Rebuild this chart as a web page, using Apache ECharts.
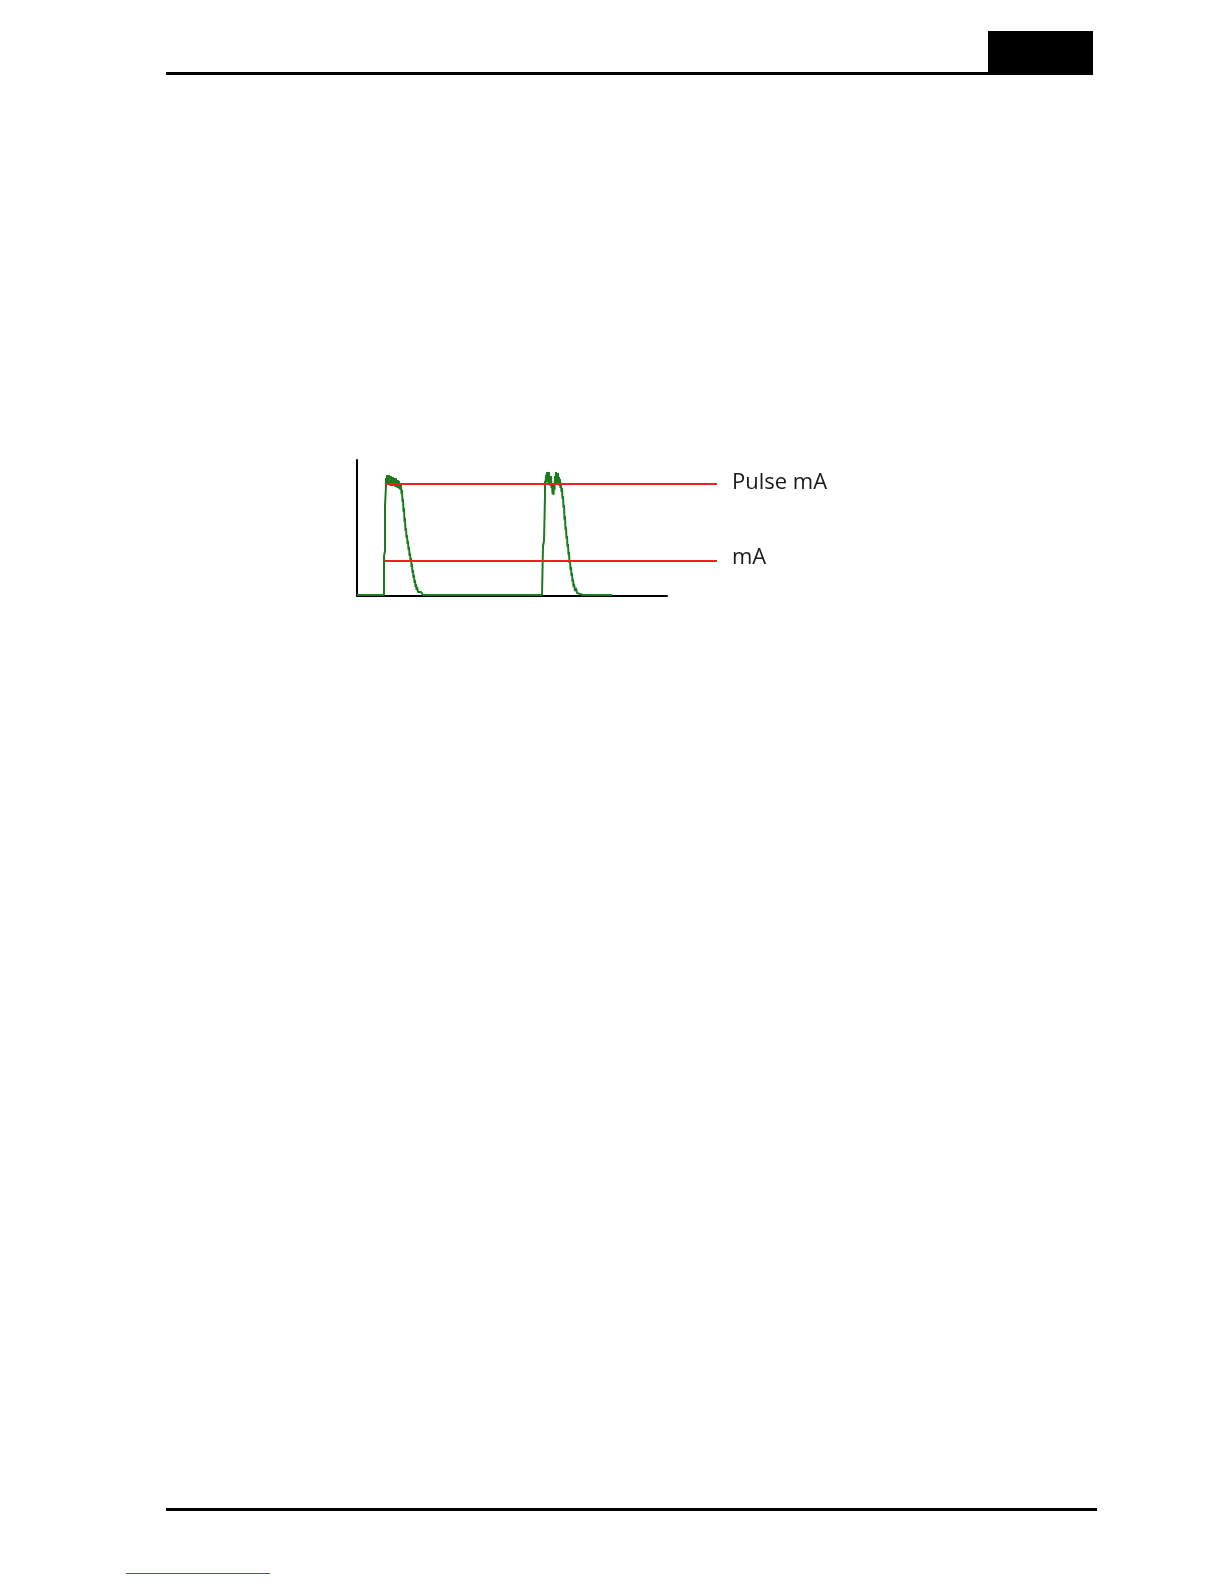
<!DOCTYPE html>
<html>
<head>
<meta charset="utf-8">
<script src="https://cdn.jsdelivr.net/npm/echarts@6/dist/echarts.min.js"></script>
<style>
html,body{margin:0;padding:0;background:#fff;}
#page{position:relative;width:1224px;height:1584px;background:#fff;}
#chart{position:absolute;left:0;top:0;width:1224px;height:1584px;}
.deco{position:absolute;background:#000;}
</style>
</head>
<body>
<div id="page">
  <div class="deco" style="left:166px;top:72px;width:822px;height:3px;"></div>
  <div class="deco" style="left:988px;top:31px;width:105px;height:44px;"></div>
  <div class="deco" style="left:166px;top:1508px;width:931px;height:3px;"></div>
  <div class="deco" style="left:126px;top:1573px;width:144px;height:1px;background:#4a4ac8;"></div>
  <div id="chart"></div>
</div>
<script>
// Current trace (time units, mA units)
const traceX = [0,20,27,27,28,28,29,29,29.5,30,30.5,31,31.5,32,32.5,33,33.5,34,34.5,35,35.5,36,36.5,37,37.5,38,38.5,39,39.5,40,40.5,41,41.5,42,42.5,43,43.5,
  44,44.5,45,45.5,46,46.5,47,47.5,48,48.5,49,49.5,50,50.5,51,51.5,52,52.5,53,53.5,54,54.5,55,55.5,56,56.5,57,57.5,58,58.5,59,59.5,60,61,62,63,64,66,68,
  88,88.5,89,118,118.5,119,185,186,186,187,188,188,188.5,189,189.5,190,190.5,191,191.5,192,192.5,193,193.5,194,194.5,195,195.5,196,196.5,197,197.5,198,198.5,199,199.5,200,200.5,201,201.5,202,202.5,203,203.5,
  204,204.5,205,205.5,206,206.5,207,207.5,208,208.5,209,209.5,210,210.5,211,211.5,212,212.5,213,213.5,214,214.5,215,215.5,216,216.5,217,218,219,220,221,223,226,255];
const traceY = [1,1,1,40,45,90,110,118,112,121,113,120,111,121,114,119,110,120,112,118,110,119,111,118,110,117,109,118,110,116,108,116,108,115,107,113,106,
  111,102,106,94,97,84,88,74,78,65,68,58,61,52,55,46,49,40,43,35,38,29,32,23,26,18,21,13,16,9,12,6,9,4,6,2,4,1,1,
  1,3,1,1,3,1,1,1,50,55,100,115,112,121,114,124,115,122,113,124,114,119,110,120,108,113,102,106,101,112,106,120,112,124,115,122,113,123,113,119,110,117,108,
  112,104,108,97,100,88,91,76,80,66,69,57,60,49,52,41,44,33,36,26,29,20,23,14,17,9,12,5,8,3,5,2,1,1];
// Reference levels
const levelNames = ["Pulse mA", "mA"];
const levelValues = [112, 35];
const levelStart = 28;
const levelEnd = 360;
// Axis ranges
const xMax = 310;
const yMax = 136;

const trace = traceX.map((x, i) => [x, traceY[i]]);

const chart = echarts.init(document.getElementById('chart'), null, {renderer: 'canvas'});
chart.setOption({
  animation: false,
  backgroundColor: 'transparent',
  grid: [
    {left: 357, top: 460, width: 310, height: 136, containLabel: false},
    {left: 357, top: 460, width: 360, height: 136, containLabel: false}
  ],
  xAxis: [
    {type: 'value', gridIndex: 0, min: 0, max: xMax,
     axisLine: {show: true, onZero: false, lineStyle: {color: '#000', width: 2}},
     axisTick: {show: false}, axisLabel: {show: false}, splitLine: {show: false}},
    {type: 'value', gridIndex: 1, min: 0, max: levelEnd, show: false}
  ],
  yAxis: [
    {type: 'value', gridIndex: 0, min: 0, max: yMax,
     axisLine: {show: true, onZero: false, lineStyle: {color: '#000', width: 2}},
     axisTick: {show: false}, axisLabel: {show: false}, splitLine: {show: false}},
    {type: 'value', gridIndex: 1, min: 0, max: yMax, show: false}
  ],
  series: [
    ...levelNames.map((name, i) => ({
      name: name,
      type: 'line',
      xAxisIndex: 1, yAxisIndex: 1,
      data: [[levelStart, levelValues[i]], [levelEnd, levelValues[i]]],
      symbol: 'none',
      lineStyle: {color: '#f02020', width: 2},
      z: 3,
      endLabel: {
        show: true,
        formatter: '{a}',
        distance: 15,
        offset: i === 1 ? [0, -3] : [0, -1],
        color: '#1a1a1a',
        fontFamily: 'Open Sans',
        fontSize: 22
      }
    })),
    {
      name: 'Current',
      type: 'line',
      xAxisIndex: 0, yAxisIndex: 0,
      data: trace,
      symbol: 'none',
      lineStyle: {color: '#1e7a1e', width: 2},
      z: 2
    }
  ]
});
</script>
</body>
</html>
